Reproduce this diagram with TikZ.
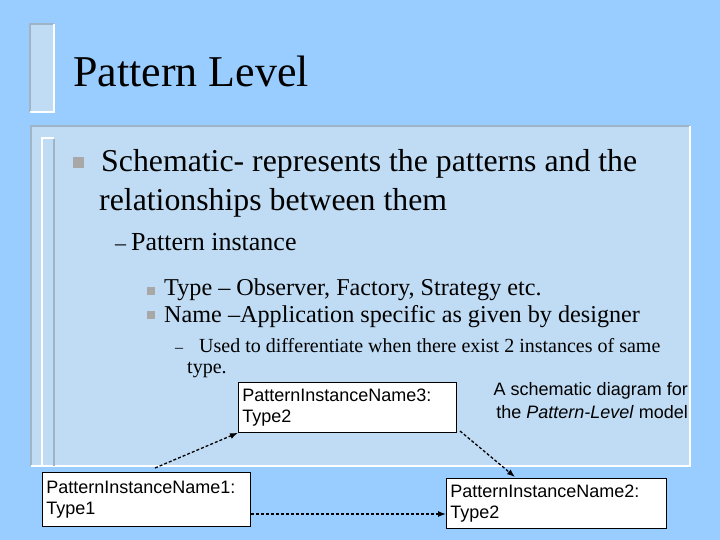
\documentclass[tikz,border=0pt]{standalone}
\usepackage{fontspec}
\setmainfont{Liberation Serif}
\newfontfamily\boxfont{Liberation Sans}
\usetikzlibrary{arrows.meta}
\definecolor{bg}{HTML}{99CCFF}
\definecolor{panel}{HTML}{C0DCF4}
\definecolor{edge}{HTML}{A0B4C8}
\definecolor{bul}{HTML}{A8A8A8}
\begin{document}
\begin{tikzpicture}[x=1pt,y=-1pt,
  txt/.style={anchor=base west,inner sep=0pt},
  inst/.style={draw=black,fill=white,line width=0.8pt,anchor=north west,align=left,font=\boxfont\fontsize{18}{21}\selectfont,inner xsep=4pt,inner ysep=4pt},
  link/.style={line width=1.3pt,dash pattern=on 3pt off 2pt,-{Latex[length=8pt,width=6pt]}},
  sq/.style={fill=bul,draw=none}]
\fill[bg] (0,0) rectangle (720,540);
\useasboundingbox (0,0) rectangle (720,540);
% title strip
\fill[panel] (30,24) rectangle (54,112);
\draw[edge,line width=1.5pt] (30,112) -- (30,24) -- (54,24);
\draw[white,line width=1.5pt] (54,24) -- (54,112) -- (30,112);
% panel
\fill[panel] (31,126) rectangle (690,466);
\draw[edge,line width=1.5pt] (31,466) -- (31,126) -- (690,126);
\draw[white,line width=1.5pt] (690,126) -- (690,466) -- (31,466);
\draw[white,line width=1.5pt] (54,466) -- (42,466) -- (42,138) -- (54,138);
\draw[edge,line width=1.5pt] (54,139.5) -- (54,466);
\node[txt,font=\fontsize{44}{48}\selectfont] (title) at (73,87) {Pattern Level};
\fill[sq] (73,157) rectangle (84,168);
\node[txt,font=\fontsize{31.8}{36}\selectfont] (l1) at (101,172) {Schematic- represents the patterns and the};
\node[txt,font=\fontsize{31.8}{36}\selectfont] (l2) at (99,211) {relationships between them};
\node[txt,font=\fontsize{22}{26}\selectfont] (d1) at (115,250) {–};
\node[txt,font=\fontsize{26}{30}\selectfont] (l3) at (131,250) {Pattern instance};
\fill[sq] (147,287) rectangle (155,295);
\node[txt,font=\fontsize{24.2}{28}\selectfont] (l4) at (164,295) {Type – Observer, Factory, Strategy etc.};
\fill[sq] (147,311) rectangle (155,319);
\node[txt,font=\fontsize{24.2}{28}\selectfont] (l5) at (164,322) {Name –Application specific as given by designer};
\node[txt,font=\fontsize{16}{20}\selectfont] (d2) at (175,352) {–};
\node[txt,font=\fontsize{20}{24}\selectfont] (l6) at (199,352) {Used to differentiate when there exist 2 instances of same};
\node[txt,font=\fontsize{20}{24}\selectfont] (l7) at (187,373) {type.};
\node[anchor=north east,align=right,inner sep=0pt,font=\boxfont\fontsize{18}{23}\selectfont] (cap) at (688,382) {A schematic diagram for\\the \textit{Pattern-Level} model};
\node[inst,text width=210pt,minimum height=50pt] (p3) at (238,382) {PatternInstanceName3:\\Type2};
\node[inst,text width=200pt,minimum height=54pt] (p1) at (42,472) {PatternInstanceName1:\\Type1};
\node[inst,text width=212pt,minimum height=50pt] (p2) at (446,478) {PatternInstanceName2:\\Type2};
\coordinate (s1) at (155,468);
\coordinate (s3) at (460,431);
\coordinate (e2) at (515,477);
\draw[link] (s1) -- (p3.south west);
\draw[link] (s3) -- (e2);
\draw[link] (p1.east |- 0,514) -- (p2.west |- 0,514);
\end{tikzpicture}
\end{document}
